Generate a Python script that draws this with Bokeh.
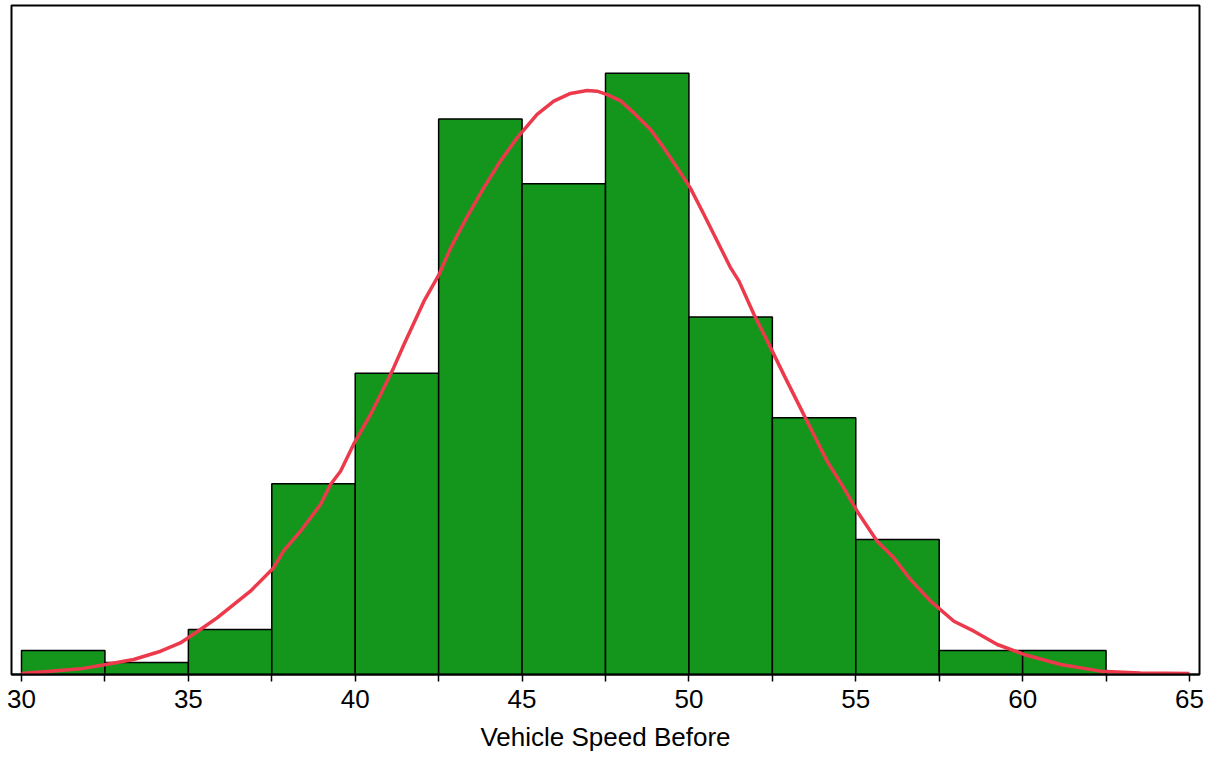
from bokeh.plotting import figure
from bokeh.models import FixedTicker, ColumnDataSource
from bokeh.embed import file_html
from bokeh.resources import INLINE

# ---- data ----
bin_edges = [30.0, 32.5, 35.0, 37.5, 40.0, 42.5, 45.0, 47.5, 50.0, 52.5, 55.0, 57.5, 60.0, 62.5]
counts = [2.0, 1.0, 3.75, 15.9, 25.1, 46.3, 40.9, 50.1, 29.8, 21.4, 11.25, 2.0, 2.0]

curve_x = [30.00, 30.87, 31.77, 32.52, 33.36, 34.17, 34.76, 35.36, 35.86, 36.86, 37.55,
           37.85, 38.36, 38.96, 39.26, 39.56, 39.95, 40.46, 40.76, 41.15, 41.46, 42.06,
           42.51, 42.86, 43.31, 43.85, 44.35, 44.85, 45.45, 45.95, 46.45, 46.95, 47.25,
           47.55, 47.94, 48.35, 48.85, 49.25, 49.65, 50.04, 50.45, 50.85, 51.25, 51.50,
           51.95, 52.35, 52.89, 53.34, 53.74, 54.14, 54.64, 55.04, 55.64, 56.14, 56.64,
           57.24, 57.94, 58.54, 59.24, 60.04, 61.14, 62.33, 63.53, 65.00]
curve_y = [0.08, 0.28, 0.47, 0.83, 1.25, 1.94, 2.63, 3.75, 4.72, 6.94, 8.88,
           10.28, 11.94, 14.17, 15.83, 16.94, 19.17, 21.67, 23.33, 25.55, 27.50, 31.11,
           33.33, 35.55, 37.92, 40.55, 42.78, 44.72, 46.67, 47.78, 48.42, 48.67, 48.61,
           48.33, 47.83, 46.80, 45.42, 43.88, 42.22, 40.55, 38.33, 36.11, 33.88, 32.78,
           30.00, 27.78, 24.72, 22.22, 20.00, 17.78, 15.55, 13.61, 11.11, 9.72, 7.92,
           6.11, 4.44, 3.61, 2.50, 1.67, 0.83, 0.28, 0.13, 0.08]

major_ticks = [30, 35, 40, 45, 50, 55, 60, 65]
minor_ticks = [32.5, 37.5, 42.5, 47.5, 52.5, 57.5, 62.5]
x_label = "Vehicle Speed Before"

# ---- figure ----
p = figure(width=1210, height=754, output_backend="svg", toolbar_location=None,
           x_range=(29.70, 65.30), y_range=(0, 55.75), y_axis_location=None,
           min_border_left=11, min_border_right=11, min_border_top=5, min_border_bottom=74)

p.grid.visible = False
p.outline_line_color = "black"
p.outline_line_width = 2
p.background_fill_color = "white"
p.border_fill_color = "white"

src = ColumnDataSource(dict(left=bin_edges[:-1], right=bin_edges[1:], top=counts,
                            bottom=[0] * len(counts)))
p.quad(left="left", right="right", top="top", bottom="bottom", source=src,
       fill_color="#13961B", line_color="black", line_width=1.5)

p.line(curve_x, curve_y, line_color="#EC3A4C", line_width=3.5)

ax = p.xaxis[0]
ax.ticker = FixedTicker(ticks=major_ticks, minor_ticks=minor_ticks)
ax.axis_line_color = "black"
ax.axis_line_width = 2
ax.major_tick_in = 0
ax.major_tick_out = 7
ax.minor_tick_in = 0
ax.minor_tick_out = 7
ax.major_tick_line_width = 1.5
ax.minor_tick_line_width = 1.5
ax.major_tick_line_color = "black"
ax.minor_tick_line_color = "black"
ax.major_label_text_font = "Liberation Sans"
ax.major_label_text_font_size = "26px"
ax.major_label_text_color = "black"
ax.major_label_standoff = 8
ax.axis_label = x_label
ax.axis_label_text_font = "Liberation Sans"
ax.axis_label_text_font_size = "26px"
ax.axis_label_text_font_style = "normal"
ax.axis_label_text_color = "black"
ax.axis_label_standoff = 11

open("out.html", "w").write(file_html(p, INLINE))
